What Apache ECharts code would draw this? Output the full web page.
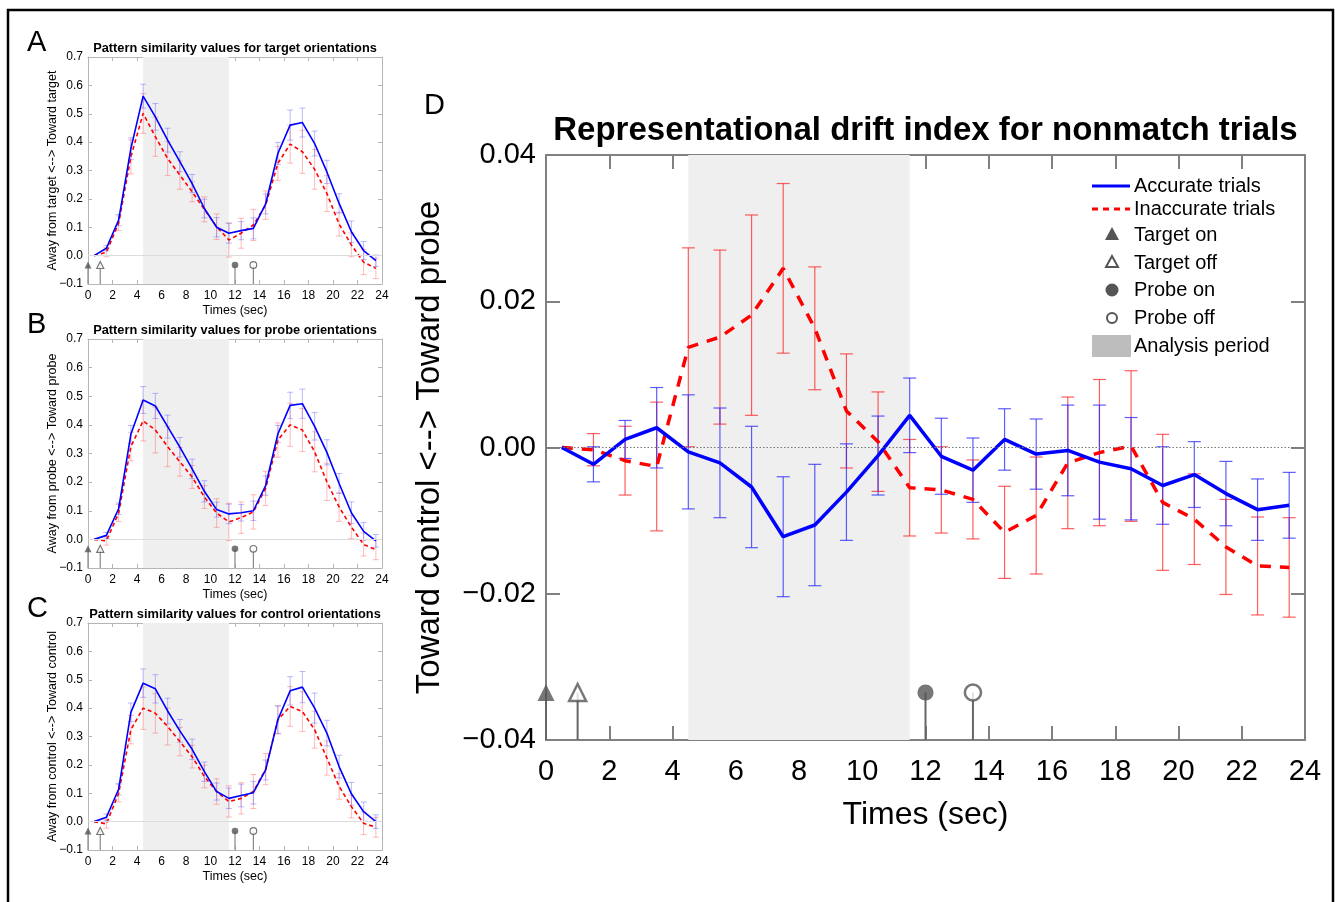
<!DOCTYPE html>
<html><head><meta charset="utf-8">
<script src="https://cdn.jsdelivr.net/npm/echarts@6/dist/echarts.min.js"></script>
<style>html,body{margin:0;padding:0;background:#fff;}#c{width:1335px;height:902px;}</style>
</head><body><div id="c"></div>
<script>
// ---------- data ----------
const times = [0.5,1.5,2.5,3.5,4.5,5.5,6.5,7.5,8.5,9.5,10.5,11.5,12.5,13.5,14.5,15.5,16.5,17.5,18.5,19.5,20.5,21.5,22.5,23.5];
const xTicks = [0,2,4,6,8,10,12,14,16,18,20,22,24];

const accA = [0,0.026,0.125,0.377,0.562,0.489,0.407,0.331,0.254,0.166,0.100,0.079,0.088,0.096,0.182,0.360,0.460,0.469,0.395,0.295,0.184,0.084,0.018,-0.018];
const accErrA = [0,0.010,0.020,0.038,0.042,0.047,0.042,0.035,0.032,0.033,0.034,0.035,0.032,0.037,0.035,0.039,0.053,0.051,0.044,0.041,0.034,0.038,0.032,0.020];
const inaccA = [0,0.012,0.114,0.348,0.501,0.419,0.342,0.284,0.225,0.163,0.102,0.055,0.079,0.108,0.178,0.325,0.393,0.366,0.304,0.219,0.111,0.038,-0.023,-0.045];
const inaccErrA = [0,0.016,0.026,0.060,0.070,0.069,0.060,0.050,0.035,0.044,0.045,0.060,0.053,0.055,0.050,0.060,0.067,0.076,0.070,0.064,0.042,0.042,0.044,0.036];

const accB = [0,0.014,0.107,0.367,0.487,0.466,0.394,0.322,0.246,0.168,0.104,0.089,0.093,0.100,0.188,0.368,0.468,0.474,0.395,0.304,0.195,0.093,0.028,-0.005];
const accErrB = [0,0.010,0.020,0.031,0.047,0.044,0.040,0.034,0.034,0.037,0.026,0.034,0.029,0.034,0.034,0.030,0.046,0.051,0.048,0.044,0.035,0.038,0.031,0.022];
const inaccB = [0,-0.005,0.092,0.324,0.414,0.382,0.324,0.271,0.218,0.148,0.092,0.061,0.076,0.096,0.178,0.347,0.400,0.382,0.306,0.201,0.113,0.043,-0.018,-0.036];
const inaccErrB = [0,0.015,0.030,0.050,0.070,0.080,0.070,0.050,0.040,0.040,0.050,0.065,0.055,0.060,0.060,0.060,0.075,0.075,0.070,0.065,0.050,0.040,0.040,0.035];

const accC = [0,0.015,0.114,0.385,0.488,0.468,0.390,0.320,0.255,0.176,0.106,0.082,0.092,0.102,0.182,0.359,0.461,0.474,0.400,0.312,0.194,0.098,0.035,0.000];
const accErrC = [0,0.012,0.020,0.033,0.050,0.050,0.045,0.040,0.036,0.034,0.030,0.036,0.040,0.040,0.035,0.048,0.050,0.055,0.053,0.045,0.040,0.040,0.034,0.024];
const inaccC = [0,-0.008,0.100,0.324,0.400,0.382,0.335,0.282,0.229,0.159,0.106,0.071,0.082,0.106,0.185,0.359,0.406,0.388,0.324,0.224,0.124,0.053,-0.006,-0.020];
const inaccErrC = [0,0.015,0.030,0.050,0.075,0.070,0.065,0.050,0.040,0.040,0.045,0.055,0.055,0.060,0.055,0.050,0.070,0.070,0.065,0.060,0.045,0.040,0.040,0.035];

const accD = [0,-0.0023,0.0011,0.0027,-0.0006,-0.0021,-0.0054,-0.0122,-0.0106,-0.0061,-0.0011,0.0044,-0.0012,-0.0031,0.0011,-0.0009,-0.0004,-0.0020,-0.0029,-0.0052,-0.0037,-0.0063,-0.0085,-0.0079];
const accErrD = [0,0.0024,0.0026,0.0055,0.0078,0.0075,0.0083,0.0082,0.0083,0.0066,0.0054,0.0051,0.0052,0.0044,0.0042,0.0048,0.0062,0.0078,0.0070,0.0053,0.0045,0.0044,0.0042,0.0045];
const inaccD = [0,-0.0003,-0.0018,-0.0026,0.0137,0.0151,0.0181,0.0245,0.0163,0.0050,0.0008,-0.0055,-0.0058,-0.0071,-0.0116,-0.0093,-0.0021,-0.0007,0.0002,-0.0075,-0.0098,-0.0136,-0.0162,-0.0164];
const inaccErrD = [0,0.0022,0.0047,0.0088,0.0136,0.0119,0.0137,0.0116,0.0084,0.0078,0.0068,0.0066,0.0059,0.0054,0.0063,0.0080,0.0090,0.0100,0.0103,0.0093,0.0062,0.0065,0.0067,0.0068];

const eventNames = ['Target on','Target off','Probe on','Probe off'];
const eventTimes = [0, 1, 12, 13.5];
const analysisPeriod = [4.5, 11.5];

const panelLetters = ['A','B','C','D'];
const panelTitles = ['Pattern similarity values for target orientations','Pattern similarity values for probe orientations','Pattern similarity values for control orientations','Representational drift index for nonmatch trials'];
const yNames = ['Away from target <--> Toward target','Away from probe <--> Toward probe','Away from control <--> Toward control','Toward control <--> Toward probe'];
const xName = 'Times (sec)';
const legendNames = ['Accurate trials','Inaccurate trials','Target on','Target off','Probe on','Probe off','Analysis period'];

// ---------- layout / styles ----------
const FONT = '"Liberation Sans", Arial, Helvetica, sans-serif';
const BLUE = '#0000ff', RED = '#ff0000', MARK = '#555555';
const panels = [
  {acc:accA, accE:accErrA, inacc:inaccA, inaccE:inaccErrA, grid:{left:88,top:57,width:294,height:227}},
  {acc:accB, accE:accErrB, inacc:inaccB, inaccE:inaccErrB, grid:{left:88,top:339,width:294,height:229}},
  {acc:accC, accE:accErrC, inacc:inaccC, inaccE:inaccErrC, grid:{left:88,top:623,width:294,height:227}},
  {acc:accD, accE:accErrD, inacc:inaccD, inaccE:inaccErrD, grid:{left:546,top:155,width:759,height:585}}
];

function minusFmt(s){ return s.replace('-', '\u2212'); }

const option = {
  animation:false,
  backgroundColor:'#fff',
  textStyle:{fontFamily:FONT},
  grid:[], xAxis:[], yAxis:[], series:[], title:[], graphic:[]
};

panels.forEach((p, i) => {
  const big = i === 3;
  const ymin = big ? -0.04 : -0.1, ymax = big ? 0.04 : 0.7, yint = big ? 0.02 : 0.1;
  const axisCol = big ? '#808080' : '#b5b5b5';
  const axW = big ? 2 : 1;
  const tickLen = big ? 14 : 4;
  const fs = big ? 29 : 12;
  option.grid.push(Object.assign({containLabel:false}, p.grid));
  const gi = i;
  const line = {onZero:false, lineStyle:{color:axisCol,width:axW}};
  const tick = {inside:true,length:tickLen,lineStyle:{color:axisCol,width:axW}};
  // bottom x
  option.xAxis.push({gridIndex:gi, type:'value', min:0, max:24, interval:2, position:'bottom',
    axisLine:line, axisTick:tick,
    axisLabel:{color:'#000', fontSize:fs, margin: big?17:6, fontFamily:FONT},
    splitLine:{show:false}, name:xName, nameLocation:'middle', nameGap: big?59:20, nameMoveOverlap:false,
    nameTextStyle:{color:'#000', fontSize: big?32:12.5, fontFamily:FONT}});
  // top x (ticks only)
  option.xAxis.push({gridIndex:gi, type:'value', min:0, max:24, interval:2, position:'top',
    axisLine:line, axisTick:tick, axisLabel:{show:false}, splitLine:{show:false}});
  option.yAxis.push({gridIndex:gi, type:'value', min:ymin, max:ymax, interval:yint, position:'left',
    axisLine:line, axisTick:tick,
    axisLabel:{color:'#000', fontSize:fs, margin: big?10:5, fontFamily:FONT,
      formatter: v => minusFmt(v.toFixed(big?2:1))},
    splitLine:{show:false}, name:yNames[i], nameLocation:'middle', nameGap: big?100:29, nameMoveOverlap:false,
    nameTextStyle:{color:'#000', fontSize: big?33:12.5, fontFamily:FONT}});
  option.yAxis.push({gridIndex:gi, type:'value', min:ymin, max:ymax, interval:yint, position:'right',
    axisLine:line, axisTick:tick, axisLabel:{show:false}, splitLine:{show:false}});
  const xi = gi*2, yi = gi*2;

  // analysis period shading + zero line (carrier series)
  option.series.push({type:'line', xAxisIndex:xi, yAxisIndex:yi, data:[], silent:true, z:0,
    markArea:{silent:true, itemStyle:{color:'#efefef'}, data:[[{xAxis:analysisPeriod[0]},{xAxis:analysisPeriod[1]}]]},
    markLine:{silent:true, symbol:'none', label:{show:false},
      lineStyle: big ? {color:'#777', type:[1.5,2], width:1} : {color:'#dcdcdc', type:'solid', width:1},
      data:[{yAxis:0}]}
  });

  // error bars
  const capHalf = big ? 6.5 : 3;
  function errSeries(vals, errs, color){
    const data = [];
    times.forEach((t,k)=>{ if(errs[k] > 0) data.push([t, vals[k]-errs[k], vals[k]+errs[k]]); });
    return {type:'custom', xAxisIndex:xi, yAxisIndex:yi, silent:true, z:2, data,
      renderItem:(params, api)=>{
        const x = api.value(0);
        const a = api.coord([x, api.value(1)]), b = api.coord([x, api.value(2)]);
        const st = {stroke:color, lineWidth: big?1.2:1};
        return {type:'group', children:[
          {type:'line', shape:{x1:a[0],y1:a[1],x2:b[0],y2:b[1]}, style:st},
          {type:'line', shape:{x1:a[0]-capHalf,y1:a[1],x2:a[0]+capHalf,y2:a[1]}, style:st},
          {type:'line', shape:{x1:b[0]-capHalf,y1:b[1],x2:b[0]+capHalf,y2:b[1]}, style:st}
        ]};
      }};
  }
  option.series.push(errSeries(p.inacc, p.inaccE, big?'rgba(255,40,40,0.75)':'rgba(255,90,90,0.42)'));
  option.series.push(errSeries(p.acc, p.accE, big?'rgba(40,40,255,0.75)':'rgba(90,90,255,0.42)'));

  // lines
  option.series.push({type:'line', name:'Inaccurate trials', xAxisIndex:xi, yAxisIndex:yi, z:3,
    data: times.map((t,k)=>[t,p.inacc[k]]), symbol:'none', silent:true,
    lineStyle:{color:RED, width: big?3.5:1.6, type: big?[11,9]:[4,3]}});
  option.series.push({type:'line', name:'Accurate trials', xAxisIndex:xi, yAxisIndex:yi, z:4,
    data: times.map((t,k)=>[t,p.acc[k]]), symbol:'none', silent:true,
    lineStyle:{color:BLUE, width: big?3.5:1.6}});

  // event stems + markers
  const markY = big ? -0.0335 : -0.033;
  option.series.push({type:'custom', xAxisIndex:xi, yAxisIndex:yi, silent:true, z:5,
    data: eventTimes.map(t=>[t, markY]),
    renderItem:(params, api)=>{
      const a = api.coord([api.value(0), ymin]), b = api.coord([api.value(0), api.value(1)]);
      return {type:'line', shape:{x1:a[0],y1:a[1],x2:b[0],y2:b[1]}, style:{stroke: big?'#666':'#888', lineWidth: big?2:1.2}};
    }});
  const msz = big ? 17 : 7;
  const symbols = ['triangle','triangle','circle','circle'];
  const hollow = [false,true,false,true];
  eventTimes.forEach((t,k)=>{
    option.series.push({type:'scatter', name:eventNames[k], xAxisIndex:xi, yAxisIndex:yi, silent:true, z:6,
      data:[[t, markY]], symbol:symbols[k], symbolSize: symbols[k]==='triangle' ? msz : msz*0.95,
      itemStyle: hollow[k] ? {color:'#fff', borderColor:MARK, borderWidth: big?2.5:1.2} : {color:MARK}});
  });

  // titles
  const g = p.grid;
  option.title.push({text:panelTitles[i], left:g.left+g.width/2, top: big?114:g.top-15, textAlign:'center',
    textStyle:{fontSize: big?33:12.8, fontWeight:'bold', color:'#000', fontFamily:FONT}, padding:0});
  option.title.push({text:panelLetters[i], left: big?424:27, top: big?91:g.top-29,
    textStyle:{fontSize:29, fontWeight:'normal', color:'#000', fontFamily:FONT}, padding:0});
});

// legend for panel D
const lgX = 1092, lgText = 1134, lgY = [186,209,235,263,290,318,346];
const lg = [];
lg.push({type:'line', shape:{x1:lgX,y1:lgY[0],x2:lgX+38,y2:lgY[0]}, style:{stroke:BLUE,lineWidth:3}});
lg.push({type:'line', shape:{x1:lgX,y1:lgY[1],x2:lgX+38,y2:lgY[1]}, style:{stroke:RED,lineWidth:3,lineDash:[6,5]}});
lg.push({type:'polygon', shape:{points:[[1112,lgY[2]-8],[1105,lgY[2]+5],[1119,lgY[2]+5]]}, style:{fill:MARK}});
lg.push({type:'polygon', shape:{points:[[1112,lgY[3]-7],[1106,lgY[3]+4],[1118,lgY[3]+4]]}, style:{fill:'#fff',stroke:MARK,lineWidth:2}});
lg.push({type:'circle', shape:{cx:1112,cy:lgY[4],r:6.5}, style:{fill:MARK}});
lg.push({type:'circle', shape:{cx:1112,cy:lgY[5],r:5}, style:{fill:'#fff',stroke:MARK,lineWidth:2}});
lg.push({type:'rect', shape:{x:lgX,y:lgY[6]-11,width:39,height:22}, style:{fill:'#bdbdbd'}});
legendNames.forEach((n,k)=>{
  lg.push({type:'text', x:lgText, y:lgY[k], style:{text:n, fill:'#000', font:'20px '+FONT, textVerticalAlign:'middle', verticalAlign:'middle'}});
});
option.graphic.push({type:'group', silent:true, children:lg});
// outer frame
option.graphic.push({type:'polyline', silent:true, shape:{points:[[8,902],[8,10],[1333,10],[1333,902]]}, style:{stroke:'#000', lineWidth:2.5, fill:null}});

const chart = echarts.init(document.getElementById('c'), null, {renderer:'canvas'});
chart.setOption(option);
</script></body></html>
